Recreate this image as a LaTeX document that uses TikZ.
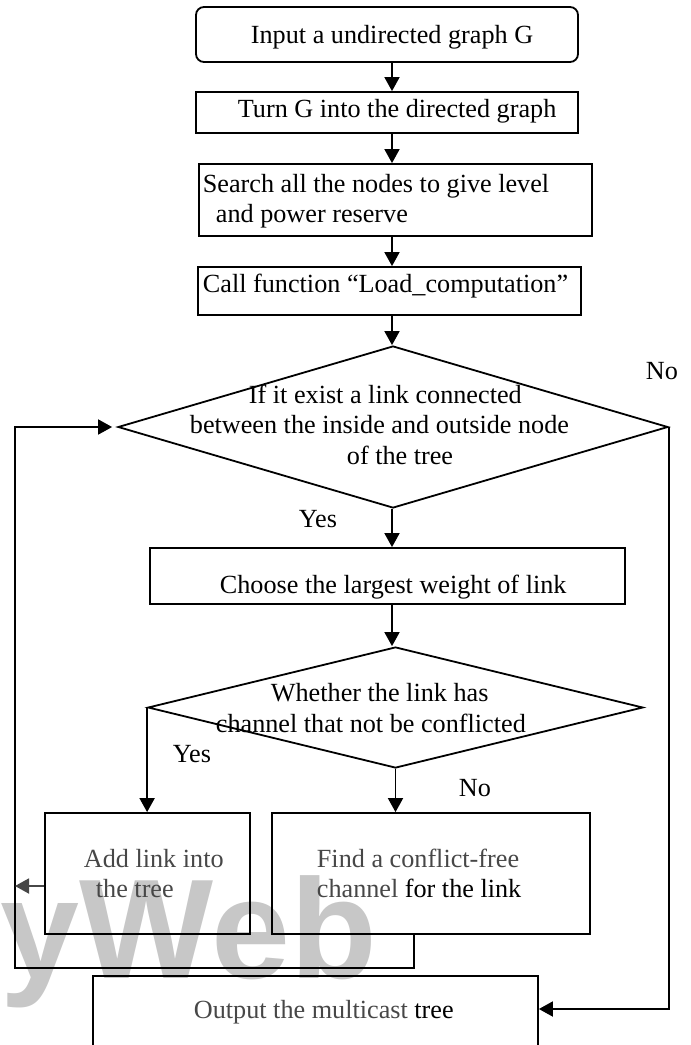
\documentclass[tikz,border=0pt]{standalone}
\usepackage{fontspec}
\setmainfont{Liberation Serif}
\newfontfamily\wmfont{Liberation Sans}
\usetikzlibrary{arrows.meta,shapes.geometric}
\begin{document}
\begin{tikzpicture}[x=1pt,y=-1pt,
  line width=1.8pt,
  box/.style={draw, rectangle, inner sep=0pt},
  dia/.style={draw, diamond, inner sep=0pt},
  lbl/.style={anchor=base west, inner sep=0pt, font=\fontsize{26.2}{30}\selectfont},
  glbl/.style={lbl, text=black!72},
  arr/.style={-{Triangle[length=14pt,width=15pt]}},
  gray arr/.style={arr, draw=black!72}
]
\useasboundingbox (0,0) rectangle (691,1045);
\clip (0,0) rectangle (691,1045);

% watermark
\node[anchor=base west, inner sep=0pt, text=black!22,
      font=\wmfont\bfseries\fontsize{142}{142}\selectfont] (wm) at (0,978) {yWeb};

% boxes
\node[box, rounded corners=8pt, minimum width=382pt, minimum height=55pt] (b1) at (387,34.5) {};
\node[box, minimum width=382pt, minimum height=41pt] (b2) at (387,112.5) {};
\node[box, minimum width=393pt, minimum height=72pt] (b3) at (395.5,200) {};
\node[box, minimum width=383pt, minimum height=48pt] (b4) at (389.5,291) {};
\node[dia, minimum width=550pt, minimum height=162pt] (d1) at (393,427) {};
\node[box, minimum width=475pt, minimum height=56pt] (b5) at (387.5,576) {};
\node[dia, minimum width=495pt, minimum height=121pt] (d2) at (395.5,707.5) {};
\node[box, minimum width=205pt, minimum height=121pt] (add) at (147.5,873.5) {};
\node[box, minimum width=318pt, minimum height=121pt] (find) at (431,873.5) {};
\node[box, minimum width=445pt, minimum height=124pt] (out) at (315.5,1038) {};

% texts
\node[lbl] (t1) at (250,43) {Input a undirected graph G};
\node[lbl] (t2) at (237,117) {Turn G into the directed graph};
\node[lbl] (t3a) at (202,192) {Search all the nodes to give level};
\node[lbl] (t3b) at (215,222) {and power reserve};
\node[lbl] (t4) at (202,292) {Call function \char"201C Load\_computation\char"201D};
\node[lbl] (t5a) at (248,403) {If it exist a link connected};
\node[lbl] (t5b) at (189,433) {between the inside and outside node};
\node[lbl] (t5c) at (346,464) {of the tree};
\node[lbl] (no1) at (645,379) {No};
\node[lbl] (yes1) at (298,527) {Yes};
\node[lbl] (t6) at (219,593) {Choose the largest weight of link};
\node[lbl] (t7a) at (270,701) {Whether the link has};
\node[lbl] (t7b) at (215,732) {channel that not be conflicted};
\node[lbl] (yes2) at (172,762) {Yes};
\node[lbl] (no2) at (458,796) {No};
\node[glbl] (t8a) at (83,867) {Add link into};
\node[glbl] (t8b) at (95,897) {the tree};
\node[glbl] (t9a) at (316,867) {Find a conflict-free};
\node[lbl] (t9b) at (316,897) {\textcolor{black!72}{channel} for the link};
\node[lbl] (t10) at (193,1018) {\textcolor{black!72}{Output the multicast} tree};

% connectors
\coordinate (ax) at (392,0);
\coordinate (fb) at (414,968);
\coordinate (lc) at (15,968);
\coordinate (ay) at (0,886);
\coordinate (oy) at (0,1009);
\draw[arr] (b1.south -| ax) -- (b2.north -| ax);
\draw[arr] (b2.south -| ax) -- (b3.north -| ax);
\draw[arr] (b3.south -| ax) -- (b4.north -| ax);
\draw[arr] (b4.south -| ax) -- (d1.north -| ax);
\draw[arr] (d1.south -| ax) -- (b5.north -| ax);
\draw[arr] (b5.south -| ax) -- (d2.north -| ax);
\draw[arr] (d2.west) -- (d2.west |- add.north);
\draw[arr] (d2.south) -- (d2.south |- find.north);
\draw[arr, shorten >=5pt] (find.south -| fb) -- (fb) -- (lc) -- (lc |- d1.west) -- (d1.west);
\draw[gray arr] (add.west |- ay) -- (lc |- ay);
\draw[arr] (d1.east) -- (d1.east |- oy) -- (out.east |- oy);
\end{tikzpicture}
\end{document}
